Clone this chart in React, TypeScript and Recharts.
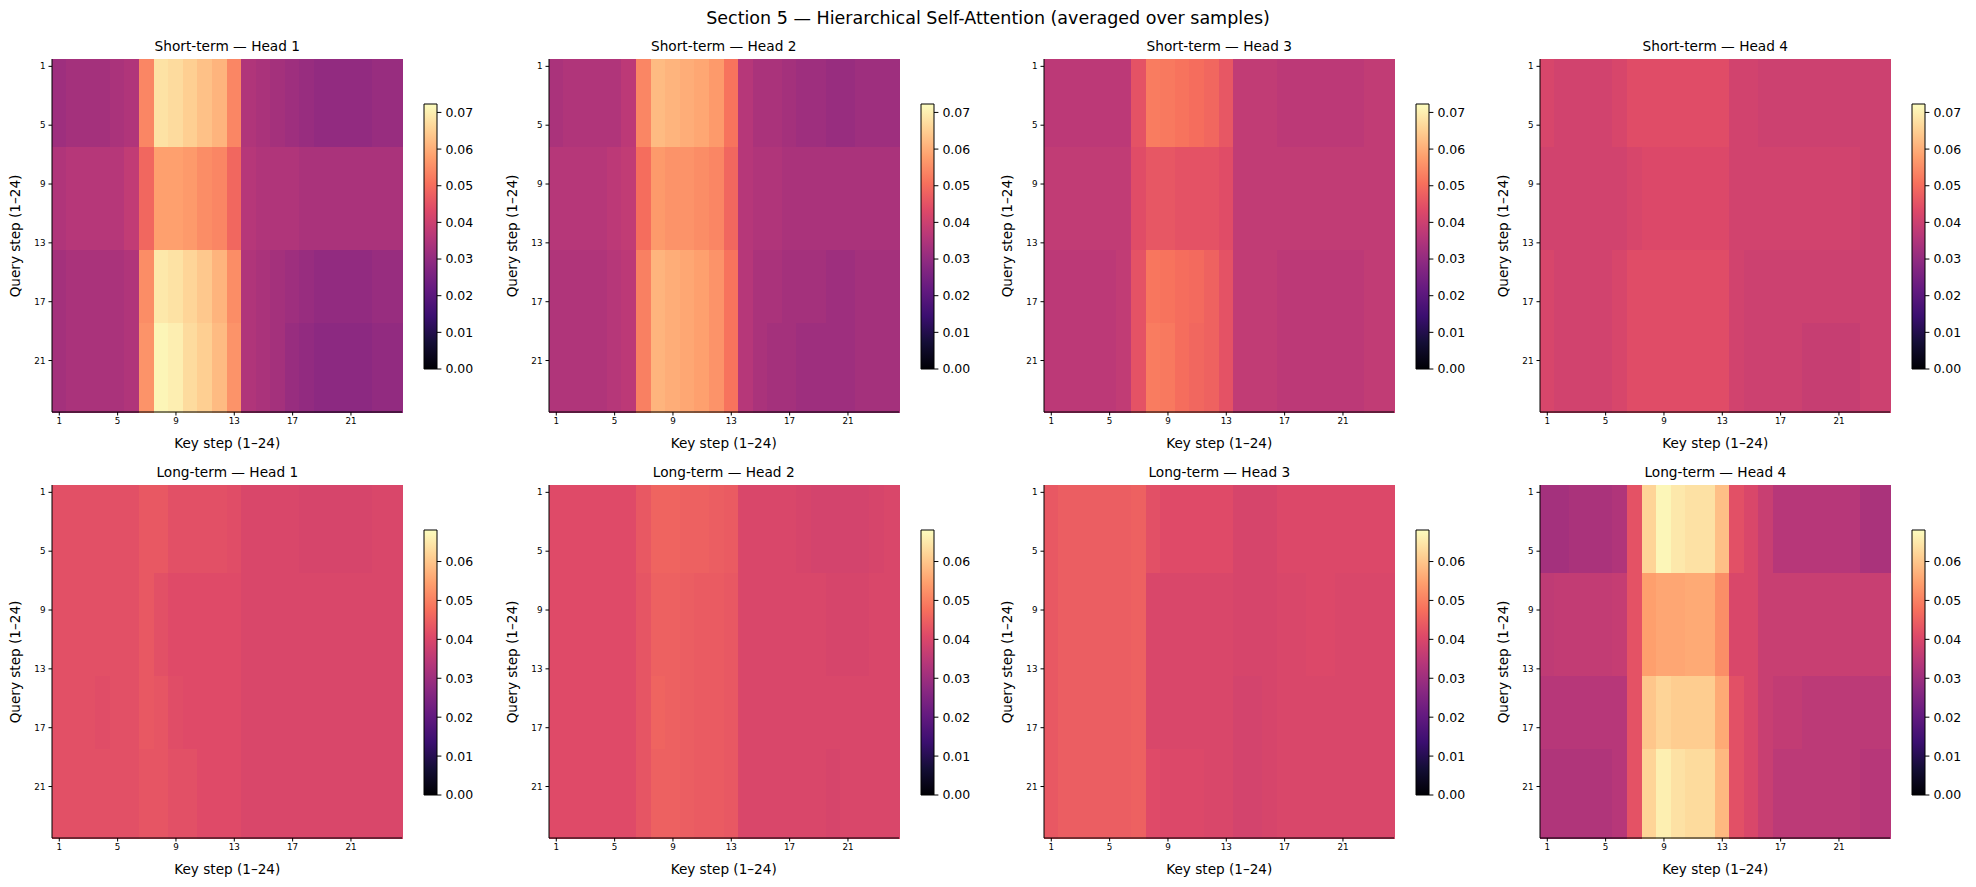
import { BarChart, Bar, XAxis, YAxis, Cell } from "recharts";

// axes
const KEY_STEPS = [1, 2, 3, 4, 5, 6, 7, 8, 9, 10, 11, 12, 13, 14, 15, 16, 17, 18, 19, 20, 21, 22, 23, 24];
const QUERY_STEPS = [1, 2, 3, 4, 5, 6, 7, 8, 9, 10, 11, 12, 13, 14, 15, 16, 17, 18, 19, 20, 21, 22, 23, 24];
// which band (a/b/c/d) each query step belongs to: q1-6, q7-13, q14-18, q19-24
const QUERY_BAND = [0, 0, 0, 0, 0, 0, 1, 1, 1, 1, 1, 1, 1, 2, 2, 2, 2, 2, 3, 3, 3, 3, 3, 3];
const STEP_TICKS = [1, 5, 9, 13, 17, 21];
const SHORT_CBAR_TICKS = [0, 0.01, 0.02, 0.03, 0.04, 0.05, 0.06, 0.07];
const LONG_CBAR_TICKS = [0, 0.01, 0.02, 0.03, 0.04, 0.05, 0.06];
const SHORT_VMAX = 0.0723;
const LONG_VMAX = 0.0681;

// attention weights over the 24 key steps, one profile per band of query steps
const sh1_a = [0.032, 0.033, 0.033, 0.033, 0.034, 0.035, 0.054, 0.068, 0.067, 0.065, 0.063, 0.061, 0.054, 0.035, 0.034, 0.033, 0.032, 0.031, 0.030, 0.030, 0.030, 0.030, 0.031, 0.031];
const sh1_b = [0.035, 0.036, 0.036, 0.036, 0.036, 0.038, 0.049, 0.058, 0.058, 0.057, 0.055, 0.054, 0.049, 0.036, 0.035, 0.035, 0.035, 0.034, 0.034, 0.034, 0.034, 0.034, 0.034, 0.034];
const sh1_c = [0.033, 0.034, 0.034, 0.034, 0.034, 0.035, 0.055, 0.069, 0.068, 0.066, 0.064, 0.061, 0.055, 0.035, 0.034, 0.033, 0.032, 0.031, 0.030, 0.030, 0.030, 0.030, 0.031, 0.031];
const sh1_d = [0.033, 0.034, 0.034, 0.034, 0.034, 0.035, 0.056, 0.071, 0.070, 0.067, 0.065, 0.062, 0.056, 0.035, 0.034, 0.033, 0.031, 0.030, 0.029, 0.029, 0.029, 0.029, 0.030, 0.030];

const sh2_a = [0.034, 0.035, 0.035, 0.035, 0.035, 0.037, 0.054, 0.062, 0.061, 0.060, 0.059, 0.057, 0.051, 0.036, 0.034, 0.034, 0.033, 0.032, 0.032, 0.031, 0.031, 0.032, 0.032, 0.032];
const sh2_b = [0.036, 0.036, 0.036, 0.036, 0.037, 0.038, 0.050, 0.057, 0.056, 0.056, 0.055, 0.054, 0.049, 0.036, 0.035, 0.035, 0.034, 0.034, 0.034, 0.034, 0.034, 0.034, 0.034, 0.034];
const sh2_c = [0.035, 0.035, 0.035, 0.035, 0.036, 0.037, 0.053, 0.061, 0.060, 0.059, 0.058, 0.056, 0.051, 0.036, 0.034, 0.034, 0.033, 0.033, 0.033, 0.032, 0.032, 0.033, 0.033, 0.033];
const sh2_d = [0.035, 0.035, 0.035, 0.035, 0.036, 0.037, 0.053, 0.061, 0.060, 0.059, 0.058, 0.056, 0.051, 0.036, 0.034, 0.033, 0.033, 0.032, 0.032, 0.032, 0.032, 0.033, 0.033, 0.033];

const sh3_a = [0.037, 0.037, 0.037, 0.037, 0.037, 0.037, 0.045, 0.0525, 0.052, 0.051, 0.050, 0.049, 0.046, 0.038, 0.038, 0.038, 0.037, 0.037, 0.037, 0.037, 0.037, 0.037, 0.038, 0.038];
const sh3_b = [0.038, 0.038, 0.038, 0.038, 0.038, 0.038, 0.044, 0.046, 0.046, 0.045, 0.045, 0.045, 0.044, 0.038, 0.038, 0.038, 0.038, 0.038, 0.038, 0.038, 0.038, 0.038, 0.038, 0.038];
const sh3_c = [0.037, 0.037, 0.037, 0.037, 0.037, 0.038, 0.045, 0.0515, 0.051, 0.050, 0.0495, 0.048, 0.045, 0.038, 0.038, 0.038, 0.037, 0.037, 0.037, 0.037, 0.037, 0.037, 0.038, 0.038];
const sh3_d = [0.037, 0.037, 0.037, 0.037, 0.037, 0.038, 0.045, 0.0525, 0.052, 0.050, 0.049, 0.048, 0.045, 0.038, 0.038, 0.038, 0.037, 0.037, 0.037, 0.037, 0.037, 0.037, 0.038, 0.038];

const sh4_a = [0.042, 0.041, 0.041, 0.041, 0.041, 0.042, 0.044, 0.044, 0.044, 0.044, 0.044, 0.044, 0.044, 0.041, 0.041, 0.040, 0.040, 0.040, 0.040, 0.040, 0.040, 0.040, 0.040, 0.040];
const sh4_b = [0.041, 0.041, 0.041, 0.041, 0.041, 0.041, 0.042, 0.043, 0.043, 0.043, 0.043, 0.043, 0.043, 0.041, 0.041, 0.041, 0.041, 0.041, 0.041, 0.041, 0.041, 0.041, 0.040, 0.040];
const sh4_c = [0.042, 0.041, 0.041, 0.041, 0.041, 0.042, 0.044, 0.044, 0.044, 0.044, 0.044, 0.044, 0.044, 0.041, 0.040, 0.040, 0.040, 0.040, 0.040, 0.040, 0.040, 0.040, 0.040, 0.040];
const sh4_d = [0.042, 0.041, 0.041, 0.041, 0.041, 0.042, 0.044, 0.044, 0.044, 0.044, 0.044, 0.044, 0.044, 0.041, 0.040, 0.040, 0.040, 0.040, 0.039, 0.039, 0.039, 0.039, 0.040, 0.040];

const lh1_a = [0.042, 0.042, 0.042, 0.042, 0.042, 0.042, 0.0435, 0.0435, 0.042, 0.042, 0.042, 0.042, 0.0415, 0.040, 0.040, 0.040, 0.040, 0.0395, 0.0395, 0.0395, 0.0395, 0.0395, 0.040, 0.040];
const lh1_b = [0.042, 0.042, 0.042, 0.042, 0.042, 0.042, 0.0435, 0.042, 0.041, 0.041, 0.041, 0.041, 0.041, 0.040, 0.040, 0.040, 0.040, 0.040, 0.040, 0.040, 0.040, 0.040, 0.040, 0.040];
const lh1_c = [0.042, 0.042, 0.042, 0.0415, 0.042, 0.042, 0.0435, 0.043, 0.0415, 0.041, 0.041, 0.041, 0.041, 0.040, 0.040, 0.040, 0.040, 0.040, 0.040, 0.040, 0.040, 0.040, 0.040, 0.040];
const lh1_d = [0.042, 0.042, 0.042, 0.042, 0.042, 0.042, 0.043, 0.043, 0.042, 0.042, 0.041, 0.041, 0.041, 0.040, 0.040, 0.040, 0.040, 0.040, 0.040, 0.040, 0.040, 0.040, 0.040, 0.040];

const lh2_a = [0.041, 0.041, 0.041, 0.041, 0.041, 0.041, 0.0435, 0.0455, 0.0455, 0.045, 0.045, 0.0445, 0.044, 0.040, 0.040, 0.040, 0.040, 0.0395, 0.039, 0.039, 0.039, 0.039, 0.0395, 0.040];
const lh2_b = [0.041, 0.041, 0.041, 0.041, 0.041, 0.041, 0.043, 0.045, 0.045, 0.0445, 0.044, 0.044, 0.0435, 0.040, 0.040, 0.040, 0.040, 0.040, 0.040, 0.0395, 0.0395, 0.0395, 0.040, 0.040];
const lh2_c = [0.041, 0.041, 0.041, 0.041, 0.041, 0.041, 0.043, 0.0455, 0.045, 0.0445, 0.044, 0.044, 0.0435, 0.040, 0.040, 0.040, 0.040, 0.040, 0.040, 0.040, 0.040, 0.040, 0.040, 0.040];
const lh2_d = [0.041, 0.041, 0.041, 0.041, 0.041, 0.041, 0.043, 0.045, 0.045, 0.0445, 0.044, 0.044, 0.0435, 0.040, 0.040, 0.040, 0.040, 0.040, 0.040, 0.0395, 0.040, 0.040, 0.040, 0.040];

const lh3_a = [0.0435, 0.0445, 0.0445, 0.0445, 0.0445, 0.0445, 0.045, 0.042, 0.041, 0.041, 0.041, 0.041, 0.041, 0.0395, 0.0395, 0.0395, 0.0405, 0.0405, 0.0405, 0.0405, 0.0405, 0.0405, 0.0405, 0.0405];
const lh3_b = [0.0435, 0.0445, 0.0445, 0.0445, 0.0445, 0.0445, 0.045, 0.040, 0.040, 0.040, 0.040, 0.040, 0.040, 0.0395, 0.0395, 0.0395, 0.040, 0.040, 0.0405, 0.0405, 0.040, 0.040, 0.040, 0.040];
const lh3_c = [0.0435, 0.0445, 0.0445, 0.0445, 0.0445, 0.0445, 0.045, 0.040, 0.040, 0.040, 0.040, 0.040, 0.040, 0.039, 0.039, 0.0395, 0.040, 0.040, 0.040, 0.040, 0.040, 0.040, 0.040, 0.040];
const lh3_d = [0.0435, 0.0445, 0.0445, 0.0445, 0.0445, 0.0445, 0.045, 0.041, 0.0405, 0.0405, 0.0405, 0.040, 0.040, 0.039, 0.039, 0.0395, 0.040, 0.040, 0.040, 0.040, 0.040, 0.040, 0.040, 0.040];

const lh4_a = [0.031, 0.031, 0.032, 0.032, 0.032, 0.033, 0.0425, 0.062, 0.067, 0.065, 0.064, 0.064, 0.059, 0.042, 0.040, 0.037, 0.034, 0.034, 0.034, 0.034, 0.034, 0.034, 0.032, 0.032];
const lh4_b = [0.0355, 0.036, 0.036, 0.036, 0.036, 0.0365, 0.0425, 0.0545, 0.0555, 0.0555, 0.056, 0.056, 0.052, 0.040, 0.040, 0.037, 0.037, 0.037, 0.037, 0.037, 0.037, 0.037, 0.037, 0.037];
const lh4_c = [0.034, 0.034, 0.034, 0.034, 0.034, 0.034, 0.0425, 0.060, 0.062, 0.061, 0.061, 0.061, 0.056, 0.042, 0.040, 0.037, 0.036, 0.036, 0.035, 0.035, 0.035, 0.035, 0.035, 0.035];
const lh4_d = [0.033, 0.033, 0.033, 0.033, 0.033, 0.034, 0.0425, 0.062, 0.066, 0.064, 0.063, 0.063, 0.058, 0.042, 0.040, 0.037, 0.035, 0.035, 0.035, 0.035, 0.035, 0.035, 0.034, 0.034];

// matplotlib "magma" colormap stops
const MAGMA = ["#000004", "#140e36", "#3b0f70", "#641a80", "#8c2981", "#b73779", "#de4968", "#f7705c", "#fe9f6d", "#fecf92", "#fcfdbf"];

function magma(t: number) {
  const x = Math.max(0, Math.min(1, t)) * (MAGMA.length - 1);
  const i = Math.min(Math.floor(x), MAGMA.length - 2);
  const f = x - i;
  const a = MAGMA[i], b = MAGMA[i + 1];
  const ch = (s: string, k: number) => parseInt(s.slice(1 + k * 2, 3 + k * 2), 16);
  const rgb = [0, 1, 2].map((k) => Math.round(ch(a, k) + (ch(b, k) - ch(a, k)) * f));
  return `rgb(${rgb[0]},${rgb[1]},${rgb[2]})`;
}

const FONT = "'DejaVu Sans', sans-serif";
const PLOT_W = 350;
const PLOT_H = 353;
const COL_X = [52.3, 548.7, 1044.3, 1540.3];
const ROW_Y = [59.3, 485.3];

const cellData = KEY_STEPS.map((k) => {
  const d: any = { key: k };
  QUERY_STEPS.forEach((q) => (d[`q${q}`] = 1));
  return d;
});

function Heatmap({ bands, vmax, x, y }: any) {
  const rows = QUERY_STEPS.map((q, qi) => bands[QUERY_BAND[qi]]);
  return (
    <div style={{ position: "absolute", left: x - 52, top: y - 1 }}>
      <BarChart
        width={52 + PLOT_W + 1}
        height={1 + PLOT_H + 40}
        data={cellData}
        margin={{ top: 1, right: 1, bottom: 0, left: 0 }}
        barCategoryGap={0}
        barGap={0}
      >
        {QUERY_STEPS.map((q, qi) => (
          <Bar key={q} dataKey={`q${q}`} stackId="s" isAnimationActive={false} shapeRendering="crispEdges">
            {KEY_STEPS.map((k, ki) => {
              const c = magma(rows[qi][ki] / vmax);
              return <Cell key={k} fill={c} stroke={c} strokeWidth={1} shapeRendering="crispEdges" />;
            })}
          </Bar>
        ))}
        <XAxis
          dataKey="key"
          type="category"
          interval={3}
          height={40}
          tickSize={3.5}
          tickMargin={2}
          tick={{ fontSize: 8.75, fill: "#000", fontFamily: FONT }}
          tickLine={{ stroke: "#000" }}
          axisLine={{ stroke: "#000" }}
        />
        <XAxis xAxisId="top" orientation="top" dataKey="key" height={0} tick={false} tickLine={false} axisLine={{ stroke: "#000" }} />
        <YAxis
          type="number"
          domain={[0, 24]}
          reversed
          ticks={STEP_TICKS.map((t) => t - 0.5)}
          interval={0}
          tickFormatter={(v: number) => String(v + 0.5)}
          width={52}
          tickSize={3.5}
          tickMargin={3}
          tick={{ fontSize: 8.75, fill: "#000", fontFamily: FONT }}
          tickLine={{ stroke: "#000" }}
          axisLine={{ stroke: "#000" }}
        />
        <YAxis yAxisId="right" orientation="right" type="number" domain={[0, 24]} width={0} tick={false} tickLine={false} axisLine={{ stroke: "#000" }} />
      </BarChart>
    </div>
  );
}

function Colorbar({ vmax, ticks, x, y, gid }: any) {
  return (
    <div style={{ position: "absolute", left: x - 1, top: y - 8 }}>
      <BarChart
        width={1 + 13 + 61}
        height={265 + 16}
        data={[{ name: "cbar", v: vmax }]}
        margin={{ top: 8, right: 0, bottom: 8, left: 1 }}
        barCategoryGap={0}
      >
        <defs>
          <linearGradient id={gid} x1="0" y1="1" x2="0" y2="0">
            {MAGMA.map((c, i) => (
              <stop key={i} offset={i / (MAGMA.length - 1)} stopColor={c} />
            ))}
          </linearGradient>
        </defs>
        <XAxis dataKey="name" hide />
        <YAxis
          orientation="right"
          type="number"
          domain={[0, vmax]}
          ticks={ticks}
          interval={0}
          width={61}
          tickFormatter={(v: number) => v.toFixed(2)}
          tickSize={4.4}
          tickMargin={4}
          axisLine={false}
          tick={{ fontSize: 12.5, fill: "#000", fontFamily: FONT }}
          tickLine={{ stroke: "#000" }}
        />
        <Bar dataKey="v" fill={`url(#${gid})`} stroke="#000" strokeWidth={1} isAnimationActive={false} />
      </BarChart>
    </div>
  );
}

function Panel({ title, bands, vmax, ticks, x, y, gid }: any) {
  return (
    <>
      <div style={{ position: "absolute", left: x, top: y - 13.3 - 8, width: PLOT_W, textAlign: "center", fontSize: 13.7, lineHeight: "16px" }}>
        {title}
      </div>
      <Heatmap bands={bands} vmax={vmax} x={x} y={y} />
      <div style={{ position: "absolute", left: x, top: y + PLOT_H + 31 - 8, width: PLOT_W, textAlign: "center", fontSize: 13.6, lineHeight: "16px" }}>
        Key step (1–24)
      </div>
      <div
        style={{
          position: "absolute",
          left: x - 37,
          top: y + PLOT_H / 2,
          transform: "translate(-50%, -50%) rotate(-90deg)",
          whiteSpace: "nowrap",
          fontSize: 13.6,
          lineHeight: "16px",
        }}
      >
        Query step (1–24)
      </div>
      <Colorbar vmax={vmax} ticks={ticks} x={x + 372} y={y + 44.3} gid={gid} />
    </>
  );
}

const SHORT_PANELS = [
  { title: "Short-term — Head 1", bands: [sh1_a, sh1_b, sh1_c, sh1_d] },
  { title: "Short-term — Head 2", bands: [sh2_a, sh2_b, sh2_c, sh2_d] },
  { title: "Short-term — Head 3", bands: [sh3_a, sh3_b, sh3_c, sh3_d] },
  { title: "Short-term — Head 4", bands: [sh4_a, sh4_b, sh4_c, sh4_d] },
];
const LONG_PANELS = [
  { title: "Long-term — Head 1", bands: [lh1_a, lh1_b, lh1_c, lh1_d] },
  { title: "Long-term — Head 2", bands: [lh2_a, lh2_b, lh2_c, lh2_d] },
  { title: "Long-term — Head 3", bands: [lh3_a, lh3_b, lh3_c, lh3_d] },
  { title: "Long-term — Head 4", bands: [lh4_a, lh4_b, lh4_c, lh4_d] },
];

export default function App() {
  return (
    <div style={{ position: "absolute", left: 0, top: 0, width: 1976, height: 887, background: "#fff", fontFamily: FONT, color: "#000" }}>
      <div style={{ position: "absolute", left: 0, top: 17.6 - 10, width: 1976, textAlign: "center", fontSize: 17.5, lineHeight: "20px" }}>
        Section 5 — Hierarchical Self-Attention (averaged over samples)
      </div>
      {SHORT_PANELS.map((p, i) => (
        <Panel key={p.title} {...p} vmax={SHORT_VMAX} ticks={SHORT_CBAR_TICKS} x={COL_X[i]} y={ROW_Y[0]} gid={`cb-s${i}`} />
      ))}
      {LONG_PANELS.map((p, i) => (
        <Panel key={p.title} {...p} vmax={LONG_VMAX} ticks={LONG_CBAR_TICKS} x={COL_X[i]} y={ROW_Y[1]} gid={`cb-l${i}`} />
      ))}
    </div>
  );
}
